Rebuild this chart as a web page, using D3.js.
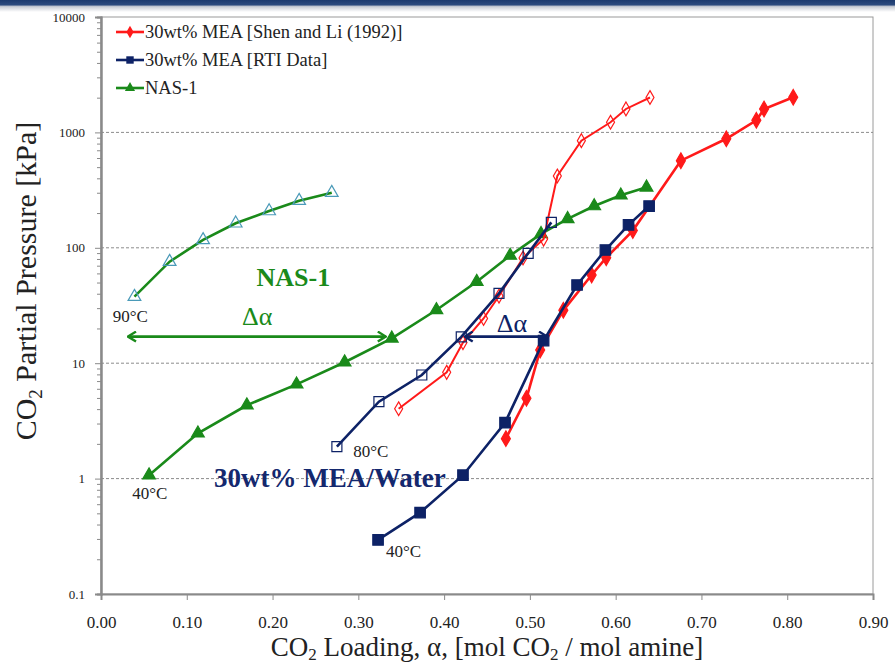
<!DOCTYPE html>
<html>
<head>
<meta charset="utf-8">
<script src="https://cdn.jsdelivr.net/npm/d3@7/dist/d3.min.js"></script>
<style>
  body { margin: 0; background: #fff; }
  svg text { font-family: "Liberation Serif", "Times New Roman", serif !important; }
</style>
</head>
<body>
<div id="chart"></div>
<script>
// loading (mol CO2 / mol amine) and CO2 partial pressure (kPa)
const shenX = [0.472, 0.496, 0.512, 0.539, 0.572, 0.589, 0.620, 0.676, 0.729, 0.764, 0.773, 0.807];
const shenY = [2.22, 4.97, 13.0, 28.7, 58.1, 82, 141, 569, 881, 1273, 1595, 2014];
const shen80X = [0.347, 0.403, 0.422, 0.446, 0.464, 0.492, 0.516, 0.532, 0.560, 0.594, 0.612, 0.640];
const shen80Y = [4.03, 8.34, 15.1, 24.4, 38.2, 81.6, 119, 419, 847, 1224, 1596, 2006];
const rtiX = [0.323, 0.372, 0.422, 0.471, 0.516, 0.555, 0.588, 0.615, 0.639];
const rtiY = [0.294, 0.507, 1.07, 3.05, 15.7, 47.6, 95.7, 158, 230];
const rti80X = [0.275, 0.324, 0.374, 0.420, 0.464, 0.498, 0.525];
const rti80Y = [1.89, 4.64, 7.9, 16.9, 40.3, 89.6, 166];
const nasX = [0.056, 0.113, 0.170, 0.228, 0.284, 0.339, 0.391, 0.438, 0.477, 0.513, 0.544, 0.575, 0.606, 0.636];
const nasY = [1.07, 2.47, 4.32, 6.56, 10.2, 16.4, 28.9, 50.8, 85.7, 132, 178, 230, 285, 334];
const nas90X = [0.039, 0.080, 0.119, 0.157, 0.196, 0.231, 0.269];
const nas90Y = [37.7, 75.8, 117, 163, 208, 256, 300];

const xTicks = [0, 0.1, 0.2, 0.3, 0.4, 0.5, 0.6, 0.7, 0.8, 0.9];
const yTicks = [0.1, 1, 10, 100, 1000, 10000];
const legendNames = ["30wt% MEA [Shen and Li (1992)]", "30wt% MEA [RTI Data]", "NAS-1"];

const red = "#ff1a1a", navy = "#0d2266", green = "#1a8a1a", teal = "#4a9ab8";
const serif = "Liberation Serif";

const width = 895, height = 666;
const margin = { left: 101, top: 17, right: 22, bottom: 72 };

const svg = d3.select("#chart").append("svg")
  .attr("width", width)
  .attr("height", height);

// header band
const grad = svg.append("defs").append("linearGradient")
  .attr("id", "band").attr("x1", 0).attr("y1", 0).attr("x2", 0).attr("y2", 1);
grad.append("stop").attr("offset", "0%").attr("stop-color", "#1c3a6e");
grad.append("stop").attr("offset", "40%").attr("stop-color", "#2c4a7e");
grad.append("stop").attr("offset", "55%").attr("stop-color", "#c8ccd4");
grad.append("stop").attr("offset", "100%").attr("stop-color", "#ffffff");
svg.append("rect").attr("x", 0).attr("y", 0).attr("width", width).attr("height", 12)
  .attr("fill", "url(#band)");

const x = d3.scaleLinear().domain([0, 0.9]).range([margin.left, width - margin.right]);
const y = d3.scaleLog().domain([0.1, 10000]).range([height - margin.bottom, margin.top]);

// plot border (top / right)
svg.append("rect")
  .attr("x", x(0)).attr("y", y(10000))
  .attr("width", x(0.9) - x(0)).attr("height", y(0.1) - y(10000))
  .attr("fill", "none").attr("stroke", "#9a9a9a").attr("stroke-width", 1);

// gridlines
svg.append("g").selectAll("line").data([1, 10, 100, 1000]).join("line")
  .attr("x1", x(0)).attr("x2", x(0.9))
  .attr("y1", d => y(d)).attr("y2", d => y(d))
  .attr("stroke", "#8c8c8c").attr("stroke-width", 1).attr("stroke-dasharray", "3,2");

// axes
const minor = [];
for (let e = -1; e < 4; e++) for (let m = 2; m <= 9; m++) minor.push(m * Math.pow(10, e));

const yMinorG = svg.append("g").attr("transform", `translate(${x(0)},0)`)
  .call(d3.axisLeft(y).tickValues(minor).tickSize(4).tickFormat(""));
const yAxisG = svg.append("g").attr("transform", `translate(${x(0)},0)`)
  .call(d3.axisLeft(y).tickValues(yTicks).tickSize(6).tickPadding(10)
    .tickFormat(d3.format("~g")));
const xAxisG = svg.append("g").attr("transform", `translate(0,${y(0.1)})`)
  .call(d3.axisBottom(x).tickValues(xTicks).tickSize(6).tickPadding(16)
    .tickFormat(d3.format(".2f")));

[yMinorG, yAxisG, xAxisG].forEach(g => {
  g.attr("font-family", serif);
  g.select(".domain").attr("stroke", "#8a8a8a").attr("stroke-width", 2);
  g.selectAll(".tick line").attr("stroke", "#8a8a8a");
});
yAxisG.selectAll(".tick text").attr("font-size", 13).attr("fill", "#222");
xAxisG.selectAll(".tick text").attr("font-size", 17).attr("fill", "#222");

// axis titles
const xt = svg.append("text")
  .attr("x", (x(0) + x(0.9)) / 2).attr("y", 656)
  .attr("text-anchor", "middle").attr("font-size", 27).attr("fill", "#222")
  .attr("font-family", serif);
xt.append("tspan").text("CO");
xt.append("tspan").attr("font-size", 17).attr("dy", 4).text("2");
xt.append("tspan").attr("dy", -4).text(" Loading, α, [mol CO");
xt.append("tspan").attr("font-size", 17).attr("dy", 4).text("2");
xt.append("tspan").attr("dy", -4).text(" / mol amine]");

const yt = svg.append("text")
  .attr("transform", "translate(36,281) rotate(-90)")
  .attr("text-anchor", "middle").attr("font-size", 30).attr("fill", "#222")
  .attr("font-family", serif);
yt.append("tspan").text("CO");
yt.append("tspan").attr("font-size", 19).attr("dy", 6).text("2");
yt.append("tspan").attr("dy", -6).text(" Partial Pressure [kPa]");

// series
const zip = (xs, ys) => xs.map((v, i) => ({ x: v, y: ys[i] }));
const line = d3.line().x(d => x(d.x)).y(d => y(d.y));

const series = [
  { pts: zip(nas90X, nas90Y), color: green, sym: d3.symbolTriangle, size: 70, fill: "none", mstroke: teal },
  { pts: zip(nasX, nasY), color: green, sym: d3.symbolTriangle, size: 70, fill: green, mstroke: green },
  { pts: zip(shen80X, shen80Y), color: red, sym: d3.symbolDiamond, size: 55, fill: "none", mstroke: red, rw: 2 },
  { pts: zip(rti80X, rti80Y), color: navy, sym: d3.symbolSquare, size: 100, fill: "none", mstroke: navy },
  { pts: zip(shenX, shenY), color: red, sym: d3.symbolDiamond, size: 70, fill: red, mstroke: red },
  { pts: zip(rtiX, rtiY), color: navy, sym: d3.symbolSquare, size: 110, fill: navy, mstroke: navy }
];

series.forEach(s => {
  svg.append("path").datum(s.pts)
    .attr("d", line).attr("fill", "none")
    .attr("stroke", s.color).attr("stroke-width", s.rw || 2.6);
  svg.append("g").selectAll("path").data(s.pts).join("path")
    .attr("transform", d => `translate(${x(d.x)},${y(d.y)})`)
    .attr("d", d3.symbol().type(s.sym).size(s.size))
    .attr("fill", s.fill).attr("stroke", s.mstroke).attr("stroke-width", 1.2);
});

// legend
const legend = svg.append("g").attr("transform", "translate(116,32)");
const legendItems = [
  { name: legendNames[0], color: red, sym: d3.symbolDiamond, size: 45 },
  { name: legendNames[1], color: navy, sym: d3.symbolSquare, size: 55 },
  { name: legendNames[2], color: green, sym: d3.symbolTriangle, size: 45 }
];
legendItems.forEach((d, i) => {
  const g = legend.append("g").attr("transform", `translate(0,${i * 28})`);
  g.append("line").attr("x1", 0).attr("x2", 28).attr("stroke", d.color).attr("stroke-width", 2.6);
  g.append("path").attr("transform", "translate(14,0)")
    .attr("d", d3.symbol().type(d.sym).size(d.size)).attr("fill", d.color);
  g.append("text").attr("x", 29).attr("y", 6).attr("font-size", 18.5).attr("fill", "#222")
    .attr("font-family", serif).text(d.name);
});

// annotations
const arrowMarkers = svg.select("defs");
[["arrG", green], ["arrN", navy]].forEach(([id, c]) => {
  arrowMarkers.append("marker").attr("id", id)
    .attr("viewBox", "0 -6 10 12").attr("refX", 9).attr("refY", 0)
    .attr("markerWidth", 10).attr("markerHeight", 12).attr("markerUnits", "userSpaceOnUse")
    .attr("orient", "auto-start-reverse")
    .append("path").attr("d", "M1,-5L9,0L1,5").attr("fill", "none")
    .attr("stroke", c).attr("stroke-width", 2.4);
});

const arrows = [
  { x1: 0.0315, x2: 0.332, y: 17.0, color: green, id: "arrG" },
  { x1: 0.424, x2: 0.520, y: 17.0, color: navy, id: "arrN" }
];
arrows.forEach(a => {
  svg.append("line")
    .attr("x1", x(a.x1)).attr("x2", x(a.x2)).attr("y1", y(a.y)).attr("y2", y(a.y))
    .attr("stroke", a.color).attr("stroke-width", 2.6)
    .attr("marker-start", `url(#${a.id})`).attr("marker-end", `url(#${a.id})`);
});

const notes = [
  { t: "NAS-1", x: 0.2242, y: 47, size: 26, color: green, bold: true, anchor: "middle" },
  { t: "Δα", x: 0.182, y: 21.4, size: 26, color: green, anchor: "middle" },
  { t: "Δα", x: 0.479, y: 18.7, size: 26, color: navy, anchor: "middle" },
  { t: "90°C", x: 0.0136, y: 22.9, size: 17, color: "#222", anchor: "start" },
  { t: "80°C", x: 0.2941, y: 1.55, size: 17, color: "#222", anchor: "start" },
  { t: "40°C", x: 0.0365, y: 0.662, size: 17, color: "#222", anchor: "start" },
  { t: "40°C", x: 0.3322, y: 0.208, size: 17, color: "#222", anchor: "start" },
  { t: "30wt% MEA/Water", x: 0.1317, y: 0.84, size: 27, color: "#14286e", bold: true, anchor: "start" }
];
svg.append("g").attr("font-family", serif).selectAll("text").data(notes).join("text")
  .attr("x", d => x(d.x)).attr("y", d => y(d.y))
  .attr("text-anchor", d => d.anchor)
  .attr("font-size", d => d.size)
  .attr("font-weight", d => d.bold ? "bold" : "normal")
  .attr("fill", d => d.color)
  .text(d => d.t);
</script>
</body>
</html>
